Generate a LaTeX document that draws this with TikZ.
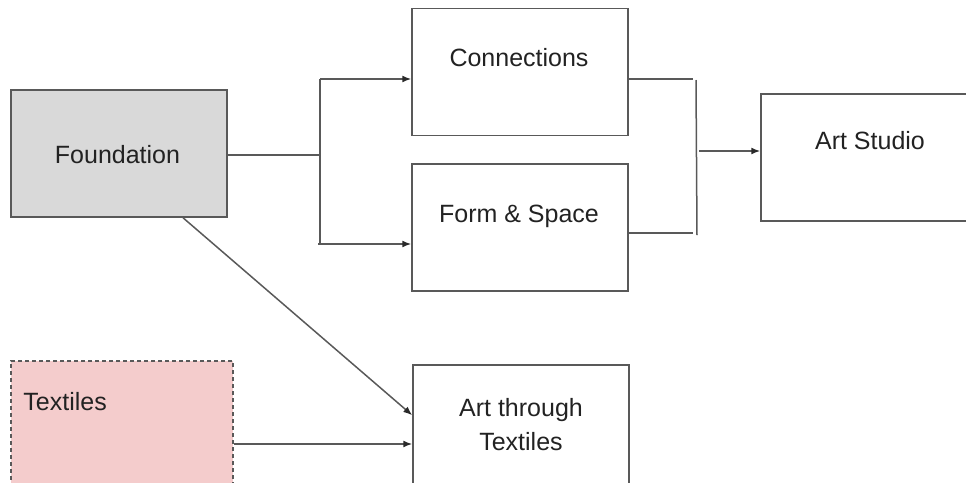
\documentclass[tikz,border=0pt]{standalone}
\usepackage{fontspec}
\setmainfont{Liberation Sans}
\usetikzlibrary{arrows.meta}

\definecolor{linegray}{HTML}{595959}
\definecolor{tipcol}{HTML}{2A2A2A}
\definecolor{foundfill}{HTML}{D9D9D9}
\definecolor{texfill}{HTML}{F4CCCC}
\definecolor{txtcol}{HTML}{222222}

\tikzset{
	box/.style={draw=linegray, line width=0.75pt, minimum width=108pt, minimum height=63.5pt, inner sep=0pt},
	lbl/.style={inner sep=0pt, text=txtcol, font=\fontsize{12.5}{17}\selectfont},
	conn/.style={draw=linegray, line width=0.75pt},
	arr/.style={conn, -{Latex[length=4.5pt,width=3.5pt,color=tipcol]}}
}

\begin{document}
\begin{tikzpicture}[x=0.5pt,y=-0.5pt]
	\useasboundingbox (0,0) rectangle (966,483);
	% boxes
	\node[box, fill=foundfill] (found) at (119,153.5) {};
	\node[box] (cnx) at (520,72) {};
	\node[box] (form) at (520,227.5) {};
	\node[box] (studio) at (869,157.5) {};
	\node[box] (atex) at (521,428.5) {};
	\node[box, fill=texfill, dashed, dash pattern=on 2pt off 1.5pt, minimum width=111pt] (tex) at (122,424.5) {};
	% texts
	\node[lbl, anchor=base] (foundtxt) at (117.5,163) {Foundation};
	\node[lbl, anchor=base] (cnxtxt) at (519,66) {Connections};
	\node[lbl, anchor=base] (formtxt) at (519,222) {Form \& Space};
	\node[lbl, anchor=base] (studiotxt) at (870,149) {Art Studio};
	\node[lbl, anchor=base] (atextxt) at (521,416) {Art through};
	\node[lbl, anchor=base] (atextxtb) at (521,450) {Textiles};
	\node[lbl, anchor=base west] (textxt) at (23,410) {Textiles};
	% split after Foundation
	\coordinate (split) at (320,155);
	\coordinate (splittop) at (320,79);
	\coordinate (splitbot) at (318,244);
	\draw[conn] (found.east |- split) -- (split);
	\draw[conn] (splittop) -- (split |- splitbot);
	\draw[arr] (splittop) -- (cnx.west |- splittop);
	\draw[arr] (splitbot) -- (form.west |- splitbot);
	% merge before Art Studio
	\coordinate (mergetop) at (693,79);
	\coordinate (mergebot) at (693,233);
	\coordinate (merge) at (699,151);
	\draw[conn] (cnx.east |- mergetop) -- (mergetop);
	\draw[conn] (form.east |- mergebot) -- (mergebot);
	\draw[conn] (696,80) -- (697,235);
	\draw[arr] (merge) -- (studio.west |- merge);
	% into Art through Textiles
	\coordinate (texin) at (233,444);
	\draw[arr] ([xshift=32pt]found.south) -- ([yshift=-25.5pt]atex.north west);
	\draw[arr] (tex.east |- texin) -- (atex.west |- texin);
\end{tikzpicture}
\end{document}
